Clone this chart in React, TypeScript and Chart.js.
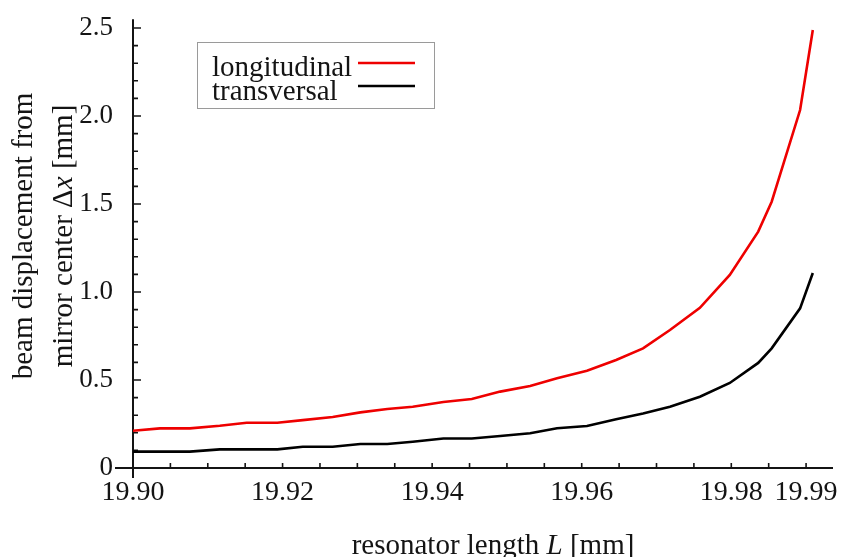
import React, { useEffect, useRef } from 'react';
import { Chart, registerables } from 'chart.js';

Chart.register(...registerables);

// resonator length L [mm]
const resonatorLength = [
  19.9, 19.9036, 19.9076, 19.9116, 19.9152, 19.9193, 19.9227, 19.9267, 19.9304,
  19.934, 19.9374, 19.9415, 19.9453, 19.9491, 19.9531, 19.9567, 19.9607, 19.9646,
  19.9682, 19.9718, 19.9758, 19.9798, 19.9836, 19.9854, 19.9892, 19.9909,
];
// beam displacement Δx [mm]
const longitudinal = [
  0.212, 0.225, 0.225, 0.24, 0.257, 0.257, 0.272, 0.29, 0.316,
  0.335, 0.348, 0.375, 0.392, 0.434, 0.466, 0.51, 0.553, 0.614,
  0.68, 0.784, 0.91, 1.097, 1.343, 1.513, 2.034, 2.489,
];
const transversal = [
  0.093, 0.093, 0.093, 0.106, 0.106, 0.106, 0.121, 0.121, 0.136,
  0.136, 0.149, 0.168, 0.168, 0.182, 0.197, 0.226, 0.239, 0.277,
  0.31, 0.348, 0.405, 0.483, 0.597, 0.68, 0.907, 1.108,
];
const seriesLabels = ['longitudinal', 'transversal'];
const xTickValues = [19.9, 19.92, 19.94, 19.96, 19.98, 19.99];
const yTickValues = [0, 0.5, 1.0, 1.5, 2.0, 2.5];

const SERIF = '"Liberation Serif", "Times New Roman", serif';
const INK = '#141414';

type Part = { t: string; i?: boolean };

function richWidth(ctx: CanvasRenderingContext2D, parts: Part[], size: number) {
  let w = 0;
  for (const p of parts) {
    ctx.font = `${p.i ? 'italic ' : ''}${size}px ${SERIF}`;
    w += ctx.measureText(p.t).width;
  }
  return w;
}

function drawRich(ctx: CanvasRenderingContext2D, parts: Part[], x: number, y: number, size: number) {
  let cx = x;
  for (const p of parts) {
    ctx.font = `${p.i ? 'italic ' : ''}${size}px ${SERIF}`;
    ctx.fillText(p.t, cx, y);
    cx += ctx.measureText(p.t).width;
  }
}

const decorPlugin = {
  id: 'decor',
  beforeDatasetsDraw(chart: any) {
    const { ctx } = chart;
    const xs = chart.scales.x;
    const ys = chart.scales.y;
    const x0 = xs.getPixelForValue(19.9);
    const y0 = ys.getPixelForValue(0);
    ctx.save();
    ctx.strokeStyle = INK;
    ctx.lineWidth = 2;
    ctx.beginPath();
    ctx.moveTo(x0 - 18, y0);
    ctx.lineTo(xs.right, y0);
    ctx.moveTo(x0, ys.top);
    ctx.lineTo(x0, y0 + 10);
    ctx.stroke();
    ctx.lineWidth = 1.6;
    ctx.beginPath();
    for (let i = 0; i <= 25; i++) {
      const py = ys.getPixelForValue(i / 10);
      const len = i % 5 === 0 ? 8 : 5;
      ctx.moveTo(x0, py);
      ctx.lineTo(x0 + len, py);
    }
    for (let i = 1; i <= 18; i++) {
      const px = xs.getPixelForValue(19.9 + i * 0.005);
      ctx.moveTo(px, y0);
      ctx.lineTo(px, y0 - 5);
    }
    ctx.stroke();
    ctx.restore();
  },
  afterDraw(chart: any) {
    const { ctx } = chart;
    ctx.save();
    ctx.fillStyle = INK;
    ctx.textBaseline = 'alphabetic';
    ctx.textAlign = 'left';
    // x axis title
    const xt: Part[] = [{ t: 'resonator length ' }, { t: 'L', i: true }, { t: ' [mm]' }];
    const xw = richWidth(ctx, xt, 29);
    drawRich(ctx, xt, 493 - xw / 2, 554, 29);
    // y axis title (rotated)
    const l1: Part[] = [{ t: 'beam displacement from' }];
    const l2: Part[] = [{ t: 'mirror center Δ' }, { t: 'x', i: true }, { t: ' [mm]' }];
    const cy = 236;
    [[l1, 32], [l2, 72]].forEach(([parts, bx]: any) => {
      const w = richWidth(ctx, parts, 29);
      ctx.save();
      ctx.translate(bx, cy);
      ctx.rotate(-Math.PI / 2);
      drawRich(ctx, parts, -w / 2, 0, 29);
      ctx.restore();
    });
    // legend
    ctx.strokeStyle = '#9a9a9a';
    ctx.lineWidth = 1;
    ctx.strokeRect(197.5, 42.5, 237, 66);
    const rows = [
      { y: 76, ly: 63 },
      { y: 100, ly: 86 },
    ];
    chart.data.datasets.forEach((ds: any, i: number) => {
      ctx.fillStyle = INK;
      ctx.font = `29px ${SERIF}`;
      ctx.fillText(ds.label, 212, rows[i].y);
      ctx.strokeStyle = ds.borderColor;
      ctx.lineWidth = 2.6;
      ctx.beginPath();
      ctx.moveTo(358, rows[i].ly);
      ctx.lineTo(415, rows[i].ly);
      ctx.stroke();
    });
    ctx.restore();
  },
};

export default function App() {
  const ref = useRef<HTMLCanvasElement | null>(null);
  useEffect(() => {
    if (!ref.current) return;
    const chart = new Chart(ref.current, {
      type: 'line',
      data: {
        datasets: [
          {
            label: seriesLabels[0],
            data: resonatorLength.map((x, i) => ({ x, y: longitudinal[i] })),
            borderColor: '#ee0000',
            borderWidth: 2.6,
            pointRadius: 0,
            tension: 0,
            fill: false,
          },
          {
            label: seriesLabels[1],
            data: resonatorLength.map((x, i) => ({ x, y: transversal[i] })),
            borderColor: '#000000',
            borderWidth: 2.6,
            pointRadius: 0,
            tension: 0,
            fill: false,
          },
        ],
      },
      options: {
        responsive: false,
        animation: false,
        layout: { padding: { left: 0, right: 12, top: 19.2, bottom: 0 } },
        plugins: { legend: { display: false }, tooltip: { enabled: false }, title: { display: false } },
        scales: {
          x: {
            type: 'linear',
            min: 19.9,
            max: 19.9936,
            grid: { display: false },
            border: { display: false },
            afterBuildTicks: (s: any) => {
              s.ticks = xTickValues.map((v) => ({ value: v }));
            },
            afterFit: (s: any) => {
              s.height = 89;
              s.paddingLeft = 0;
              s.paddingRight = 0;
              s.paddingTop = 0;
              s.paddingBottom = 0;
            },
            ticks: {
              autoSkip: false,
              maxRotation: 0,
              padding: 0,
              color: INK,
              font: { family: SERIF, size: 28 },
              callback: (v: any) => Number(v).toFixed(2),
            },
          },
          y: {
            type: 'linear',
            min: 0,
            max: 2.55,
            grid: { display: false },
            border: { display: false },
            afterBuildTicks: (s: any) => {
              s.ticks = yTickValues.map((v) => ({ value: v }));
            },
            afterFit: (s: any) => {
              s.width = 133;
              s.paddingLeft = 0;
              s.paddingRight = 0;
              s.paddingTop = 0;
              s.paddingBottom = 0;
            },
            ticks: {
              padding: 12,
              color: INK,
              font: { family: SERIF, size: 27 },
              callback: (v: any) => (Number(v) === 0 ? '0' : Number(v).toFixed(1)),
            },
          },
        },
      },
      plugins: [decorPlugin],
    });
    return () => chart.destroy();
  }, []);
  return (
    <div style={{ position: 'absolute', left: 0, top: 0, width: 845, height: 557, background: '#fff' }}>
      <canvas ref={ref} width={845} height={557} />
    </div>
  );
}
